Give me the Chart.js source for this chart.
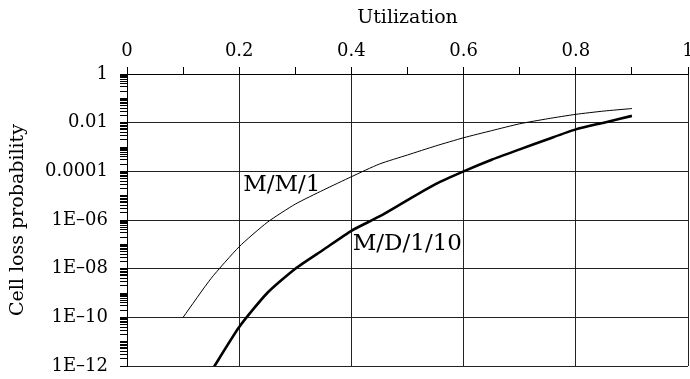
<!DOCTYPE html>
<html>
<head>
<meta charset="utf-8">
<script src="https://cdn.jsdelivr.net/npm/chart.js@4.4.0/dist/chart.umd.min.js"></script>
<style>
    html, body { margin: 0; padding: 0; background: #fff; }
    #wrap { width: 690px; height: 379px; }
</style>
</head>
<body>
<div id="wrap"><canvas id="lossChart"></canvas></div>
<script>
// Dữ liệu
const mm1Utilization = [0.1, 0.15, 0.2, 0.25, 0.3, 0.35, 0.4, 0.45, 0.5, 0.55, 0.6, 0.65, 0.7, 0.75, 0.8, 0.85, 0.9];
const mm1Loss = [1e-10, 4e-9, 8e-8, 8e-7, 4.5e-6, 1.7e-5, 6e-5, 2e-4, 4.7e-4, 1.1e-3, 2.4e-3, 4.7e-3, 9e-3, 1.45e-2, 2.2e-2, 3e-2, 3.8e-2];

const md1Utilization = [0.15, 0.2, 0.25, 0.3, 0.35, 0.4, 0.45, 0.5, 0.55, 0.6, 0.65, 0.7, 0.75, 0.8, 0.85, 0.9];
const md1Loss = [6e-13, 4e-11, 1e-9, 1e-8, 6e-8, 3.6e-7, 1.4e-6, 6.6e-6, 3e-5, 1e-4, 3e-4, 8e-4, 2.1e-3, 5.3e-3, 1e-2, 1.9e-2];

const seriesNames = ['M/M/1', 'M/D/1/10'];

// Trục
const xTickValues = [0, 0.1, 0.2, 0.3, 0.4, 0.5, 0.6, 0.7, 0.8, 0.9, 1];
const xMajorValues = [0, 0.2, 0.4, 0.6, 0.8, 1];
const xTickLabels = ['0', '0.2', '0.4', '0.6', '0.8', '1'];
const yMajorValues = [1, 1e-2, 1e-4, 1e-6, 1e-8, 1e-10, 1e-12];
const yTickLabels = ['1', '0.01', '0.0001', '1E\u201306', '1E\u201308', '1E\u201310', '1E\u201312'];

const serif = '"DejaVu Serif", serif';

function toPoints(xs, ys) {
    return xs.map(function (x, i) { return { x: x, y: ys[i] }; });
}

function xMajorIndex(v) {
    return xMajorValues.findIndex(function (m) { return Math.abs(m - v) < 1e-9; });
}

function yMajorIndex(v) {
    return yMajorValues.findIndex(function (m) { return Math.abs(Math.log10(m) - Math.log10(v)) < 1e-6; });
}

// Vạch chia log: 1..9 x 10^n
function buildLogTicks() {
    const ticks = [];
    for (let n = -12; n <= 0; n++) {
        for (let k = 1; k <= 9; k++) {
            const v = k * Math.pow(10, n);
            if (v <= 1.0000001) ticks.push({ value: v });
        }
    }
    return ticks;
}

// Nhãn trên đường cong
const curveLabelPlugin = {
    id: 'curveLabels',
    afterDatasetsDraw: function (chart, args, opts) {
        const ctx = chart.ctx;
        const xs = chart.scales.x;
        const ys = chart.scales.y;
        ctx.save();
        ctx.font = opts.font;
        ctx.fillStyle = '#000';
        ctx.textBaseline = 'alphabetic';
        ctx.textAlign = 'left';
        opts.anchors.forEach(function (a, i) {
            ctx.fillText(seriesNames[i], xs.getPixelForValue(a.x), ys.getPixelForValue(a.y));
        });
        ctx.restore();
    }
};

const ctx1 = document.getElementById('lossChart').getContext('2d');
const lossChart = new Chart(ctx1, {
    type: 'line',
    data: {
        datasets: [{
            label: seriesNames[0],
            data: toPoints(mm1Utilization, mm1Loss),
            borderColor: '#000',
            borderWidth: 1,
            pointRadius: 0,
            tension: 0.2
        }, {
            label: seriesNames[1],
            data: toPoints(md1Utilization, md1Loss),
            borderColor: '#000',
            borderWidth: 2.6,
            pointRadius: 0,
            tension: 0.2
        }]
    },
    options: {
        responsive: true,
        maintainAspectRatio: false,
        animation: false,
        layout: {
            padding: { top: 0, left: 0, right: 2, bottom: 13 }
        },
        plugins: {
            legend: { display: false },
            tooltip: { enabled: false },
            curveLabels: {
                font: '23px ' + serif,
                anchors: [{ x: 0.207, y: 1.6e-5 }, { x: 0.4025, y: 5.9e-8 }]
            }
        },
        scales: {
            x: {
                type: 'linear',
                position: 'top',
                min: 0,
                max: 1,
                afterBuildTicks: function (scale) {
                    scale.ticks = xTickValues.map(function (v) { return { value: v }; });
                },
                afterFit: function (scale) {
                    scale.height = 74;
                    scale.paddingLeft = 0;
                    scale.paddingRight = 0;
                },
                ticks: {
                    autoSkip: false,
                    maxRotation: 0,
                    padding: 5,
                    color: '#000',
                    font: { family: serif, size: 18 },
                    callback: function (value) {
                        const i = xMajorIndex(value);
                        return i >= 0 ? xTickLabels[i] : '';
                    }
                },
                grid: {
                    color: function (c) {
                        return c.tick && xMajorIndex(c.tick.value) >= 0 ? '#222' : 'rgba(0,0,0,0)';
                    },
                    tickColor: '#000',
                    tickLength: 7,
                    lineWidth: 1
                },
                border: { color: '#000', width: 1 },
                title: {
                    display: true,
                    text: 'Utilization',
                    color: '#000',
                    font: { family: serif, size: 19 },
                    padding: { top: 7, bottom: 0 }
                }
            },
            y: {
                type: 'logarithmic',
                min: 1e-12,
                max: 1,
                afterBuildTicks: function (scale) {
                    scale.ticks = buildLogTicks();
                },
                afterFit: function (scale) {
                    scale.width = 127;
                    scale.paddingTop = 0;
                    scale.paddingBottom = 0;
                },
                ticks: {
                    autoSkip: false,
                    padding: 12,
                    color: '#000',
                    font: { family: serif, size: 18 },
                    callback: function (value) {
                        const i = yMajorIndex(value);
                        return i >= 0 ? yTickLabels[i] : '';
                    }
                },
                grid: {
                    color: function (c) {
                        return c.tick && yMajorIndex(c.tick.value) >= 0 ? '#222' : 'rgba(0,0,0,0)';
                    },
                    tickColor: '#000',
                    tickLength: 7,
                    lineWidth: 1
                },
                border: { color: '#000', width: 1 },
                title: {
                    display: true,
                    text: 'Cell loss probability',
                    color: '#000',
                    font: { family: serif, size: 19 },
                    padding: { top: 7, bottom: 0 }
                }
            }
        }
    },
    plugins: [curveLabelPlugin]
});
</script>
</body>
</html>
